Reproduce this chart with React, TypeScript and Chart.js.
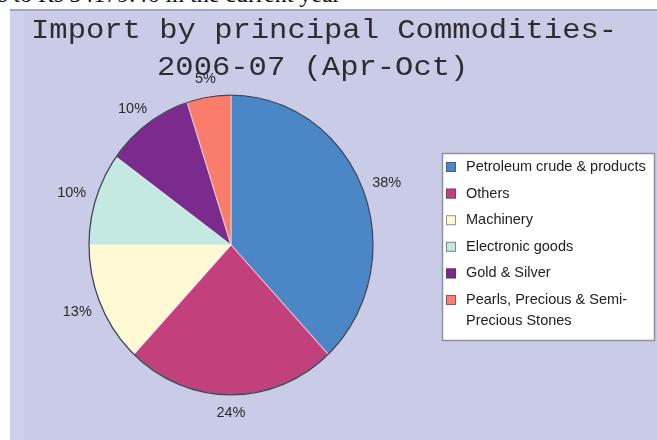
import React, { useEffect, useRef } from "react";
import { Chart, registerables } from "chart.js";

Chart.register(...registerables);

// Import shares by commodity group, 2006-07 (Apr-Oct), in percent
const commodities = [
  "Petroleum crude & products",
  "Others",
  "Machinery",
  "Electronic goods",
  "Gold & Silver",
  "Pearls, Precious & Semi-Precious Stones",
];
const shares = [38, 24, 13, 10, 10, 5];
const sliceColors = ["#4b86c6", "#c2407b", "#fffad4", "#c4e9e2", "#7b2a8e", "#fa7d6b"];
const titleLines = ["Import by principal Commodities-", "2006-07 (Apr-Oct)"];
const leadText = "s to Rs 54179.46 in the current year";

const W = 657;
const H = 440;
const OVAL = 1.056; // pie is drawn slightly taller than wide
const TEXT_FONT = "14.5px 'Liberation Sans', Arial, sans-serif";

const ovalPie = {
  id: "ovalPie",
  beforeDatasetsDraw(chart: any) {
    const arc = chart.getDatasetMeta(0).data[0];
    const ctx = chart.ctx;
    ctx.save();
    ctx.translate(arc.x, arc.y);
    ctx.scale(1, OVAL);
    ctx.translate(-arc.x, -arc.y);
  },
  afterDatasetsDraw(chart: any) {
    const ctx = chart.ctx;
    ctx.restore();
    const arc = chart.getDatasetMeta(0).data[0];
    // dark rim around the pie
    ctx.save();
    ctx.beginPath();
    ctx.ellipse(arc.x, arc.y, arc.outerRadius, arc.outerRadius * OVAL, 0, 0, Math.PI * 2);
    ctx.lineWidth = 1.3;
    ctx.strokeStyle = "#3d4458";
    ctx.stroke();
    ctx.restore();
  },
};

const sliceLabels = {
  id: "sliceLabels",
  afterDatasetsDraw(chart: any) {
    const ctx = chart.ctx;
    const meta = chart.getDatasetMeta(0);
    const values = chart.data.datasets[0].data as number[];
    ctx.save();
    ctx.font = TEXT_FONT;
    ctx.fillStyle = "#2a2a2a";
    ctx.textAlign = "center";
    ctx.textBaseline = "middle";
    meta.data.forEach((el: any, i: number) => {
      const a = (el.startAngle + el.endAngle) / 2;
      const r = el.outerRadius;
      const ex = Math.cos(a);
      const ey = Math.sin(a);
      const d = 11;
      const px = el.x + ex * (r + d);
      const py = el.y + ey * (r * OVAL + d);
      const txt = values[i] + "%";
      const w = ctx.measureText(txt).width;
      const h = 14;
      ctx.fillText(txt, px + (ex * w) / 2, py + (ey * h) / 2);
    });
    ctx.restore();
  },
};

function wrapWords(ctx: CanvasRenderingContext2D, text: string, maxW: number): string[] {
  const parts = text.split(/(?<=[\s-])/);
  const lines: string[] = [];
  let cur = "";
  parts.forEach((p) => {
    if (cur && ctx.measureText(cur + p).width > maxW) {
      lines.push(cur.trim());
      cur = p;
    } else {
      cur += p;
    }
  });
  if (cur) lines.push(cur.trim());
  return lines;
}

const boxLegend = {
  id: "boxLegend",
  afterDraw(chart: any) {
    const ctx = chart.ctx;
    const labels = chart.data.labels as string[];
    const colors = chart.data.datasets[0].backgroundColor as string[];
    const bx = 442.5;
    const by = 153.5;
    const bw = 212;
    const bh = 187;
    ctx.save();
    ctx.fillStyle = "#ffffff";
    ctx.fillRect(bx, by, bw, bh);
    ctx.lineWidth = 1.5;
    ctx.strokeStyle = "#8f91a3";
    ctx.strokeRect(bx, by, bw, bh);

    ctx.font = TEXT_FONT;
    ctx.textAlign = "left";
    ctx.textBaseline = "middle";
    let y = 167;
    labels.forEach((lab, i) => {
      ctx.fillStyle = colors[i];
      ctx.fillRect(446, y - 5, 10, 10);
      ctx.lineWidth = 1;
      ctx.strokeStyle = "rgba(60,60,80,0.55)";
      ctx.strokeRect(446.5, y - 4.5, 9, 9);
      ctx.fillStyle = "#222222";
      const lines = wrapWords(ctx, lab, 188);
      lines.forEach((ln, k) => ctx.fillText(ln, 466, y + k * 21));
      y += 26.6 + (lines.length - 1) * 21;
    });
    ctx.restore();
  },
};

const titleText = {
  id: "titleText",
  afterDraw(chart: any) {
    const ctx = chart.ctx;
    ctx.save();
    ctx.font = "28px 'Liberation Mono', 'Courier New', monospace";
    ctx.fillStyle = "#2d2d31";
    ctx.textAlign = "left";
    ctx.textBaseline = "alphabetic";
    // monospace title, widened a little horizontally
    const sx = 1.09;
    ctx.scale(sx, 1);
    ctx.fillText(titleLines[0], 31 / sx, 38);
    ctx.fillText(titleLines[1], 157 / sx, 75);
    ctx.restore();
  },
};

export default function App() {
  const canvasRef = useRef<HTMLCanvasElement | null>(null);

  useEffect(() => {
    if (!canvasRef.current) return;
    const chart = new Chart(canvasRef.current, {
      type: "pie",
      data: {
        labels: commodities,
        datasets: [
          {
            data: shares,
            backgroundColor: sliceColors,
            borderColor: "rgba(255,255,255,0.55)",
            borderWidth: 1,
            radius: 142,
            hoverOffset: 0,
          },
        ],
      },
      options: {
        responsive: false,
        maintainAspectRatio: false,
        animation: false,
        devicePixelRatio: 1,
        layout: { padding: { left: 89, right: 284, top: 103, bottom: 53 } },
        plugins: {
          legend: { display: false },
          title: { display: false },
          tooltip: { enabled: false },
        },
      },
      plugins: [ovalPie, sliceLabels, boxLegend, titleText],
    });
    return () => chart.destroy();
  }, []);

  return (
    <div
      style={{
        position: "fixed",
        left: 0,
        top: 0,
        width: W,
        height: H,
        background: "#ffffff",
        overflow: "hidden",
      }}
    >
      <div
        style={{
          position: "absolute",
          left: -2,
          top: -18,
          fontFamily: "'Liberation Serif', 'Times New Roman', serif",
          fontSize: 24,
          lineHeight: "24px",
          color: "#111",
          whiteSpace: "nowrap",
        }}
      >
        {leadText}
      </div>
      <div
        style={{
          position: "absolute",
          left: 10,
          top: 9,
          width: 647,
          height: 431,
          background: "#c9cbe7",
          borderTop: "2px solid #a3a6c2",
          boxSizing: "border-box",
        }}
      />
      <div
        style={{
          position: "absolute",
          left: 10,
          top: 11,
          width: 14,
          height: 429,
          background: "#cfd1ec",
        }}
      />
      <canvas
        ref={canvasRef}
        width={W}
        height={H}
        style={{ position: "absolute", left: 0, top: 0, width: W, height: H }}
      />
    </div>
  );
}
